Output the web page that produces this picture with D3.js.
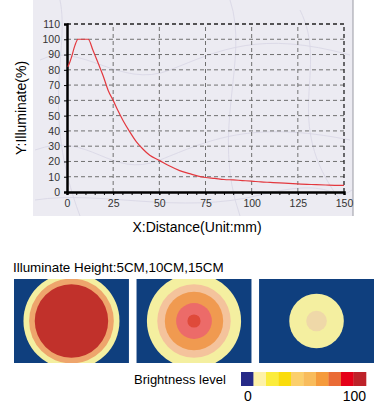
<!DOCTYPE html>
<html>
<head>
<meta charset="utf-8">
<script src="https://cdn.jsdelivr.net/npm/d3@7"></script>
<style>
    body { margin: 0; background: #fff; }
    svg { display: block; font-family: Arial, "Liberation Sans", sans-serif; }
</style>
</head>
<body>
<svg id="chart" width="380" height="411"></svg>
<script>
// illumination curve
const distance = [0.5, 1.5, 2.5, 4.3, 6, 8, 11.5, 14, 17, 19.6, 22.3, 25, 27.7, 30.4, 34, 37.6, 41.2, 44.8, 50,
    55.6, 61, 66.4, 71, 75, 80, 85, 90, 95, 100, 105, 110, 115, 120, 125, 130, 135, 140, 145, 150];
const illuminate = [82, 85, 88.5, 96, 100, 100, 100, 93, 84, 76, 66.5, 60, 53, 46.7, 39.4, 32.8, 28, 24, 20.7,
    17, 14, 12, 10.4, 9.5, 8.9, 8.2, 7.9, 7.5, 7.1, 6.6, 6.3, 6.0, 5.6, 5.3, 5.0, 4.8, 4.6, 4.4, 4.3];

const xTicks = [0, 25, 50, 75, 100, 125, 150];
const yTicks = [0, 10, 20, 30, 40, 50, 60, 70, 80, 90, 100, 110];

// spot images: ring radius (mm) and brightness level, outer to inner
const heights = ["5CM", "10CM", "15CM"];
const spotRadius = [[51, 45, 39], [50, 39, 31, 19, 7], [29, 11]];
const spotLevel = [[1, 8, 7], [1, 3, 4, 5, 6], [1, 2]];
const heatPalette = ["#0f3f7e", "#f4efa0", "#efd8a8", "#f4c39c", "#f09a50", "#ec6b69", "#df4a3a", "#c1312b", "#eea56c"];

// legend
const legendColors = ["#262a88", "#fdf1a8", "#fbec3c", "#fadc0c", "#fbcf6c", "#f8bc5c", "#f59b3c", "#ea6b35", "#e50018", "#bd2229"];
const legendLabels = ["0", "100"];

const svg = d3.select("#chart");

// ---- line chart ----
svg.append("rect")
    .attr("x", 33).attr("y", 0)
    .attr("width", 320).attr("height", 216)
    .attr("fill", "#ecebf2");

// faint marble veins in the backdrop
const veins = [
    "M40,60 C80,40 120,90 170,70 S260,30 350,55",
    "M35,150 C90,130 110,180 160,160 S250,120 350,140",
    "M60,0 C70,50 40,110 80,216",
    "M230,0 C250,60 210,130 240,216",
    "M300,10 C330,70 280,120 340,200",
    "M35,200 C100,190 180,215 260,195 S330,205 352,190"
];
svg.append("g")
    .attr("fill", "none")
    .attr("stroke", "#cfcde0")
    .attr("stroke-width", 0.8)
    .attr("opacity", 0.7)
    .selectAll("path")
    .data(veins)
    .join("path")
    .attr("d", d => d);

svg.append("line")
    .attr("x1", 353).attr("x2", 353).attr("y1", 0).attr("y2", 216)
    .attr("stroke", "#9a9aa4");

const x = d3.scaleLinear().domain([0, 150]).range([67, 344]);
const y = d3.scaleLinear().domain([0, 110]).range([192, 24]);

const grid = svg.append("g")
    .attr("stroke", "#707070")
    .attr("stroke-dasharray", "4,3");

grid.selectAll(".h")
    .data(yTicks.filter(d => d > 0 && d < 110))
    .join("line")
    .attr("x1", x(0)).attr("x2", x(150))
    .attr("y1", d => y(d)).attr("y2", d => y(d));

grid.selectAll(".v")
    .data(xTicks.filter(d => d > 0 && d < 150))
    .join("line")
    .attr("x1", d => x(d)).attr("x2", d => x(d))
    .attr("y1", y(0)).attr("y2", y(110));

// dashed top & right frame
svg.append("path")
    .attr("d", `M${x(0)},${y(110)}H${x(150)}V${y(0)}`)
    .attr("fill", "none")
    .attr("stroke", "#222")
    .attr("stroke-width", 1.3)
    .attr("stroke-dasharray", "4,3");

const yAxis = svg.append("g")
    .attr("transform", `translate(${x(0)},0)`)
    .call(d3.axisLeft(y).tickValues(yTicks).tickSize(3).tickPadding(4));
yAxis.select(".domain").attr("stroke-width", 2.5);

const xMinor = svg.append("g")
    .attr("transform", `translate(0,${y(0)})`)
    .call(d3.axisBottom(x).ticks(30).tickSize(3).tickFormat(""));
xMinor.select(".domain").remove();

const xAxis = svg.append("g")
    .attr("transform", `translate(0,${y(0)})`)
    .call(d3.axisBottom(x).tickValues(xTicks).tickSize(3).tickPadding(5));
xAxis.select(".domain").attr("stroke-width", 2.5);

svg.selectAll(".tick text")
    .attr("font-size", 10.5)
    .attr("fill", "#333")
    .attr("font-family", "Arial, 'Liberation Sans', sans-serif");

svg.append("path")
    .datum(distance.map((d, i) => [d, illuminate[i]]))
    .attr("d", d3.line().curve(d3.curveMonotoneX).x(d => x(d[0])).y(d => y(d[1])))
    .attr("fill", "none")
    .attr("stroke", "#e3383e")
    .attr("stroke-width", 1.2);

svg.append("text")
    .attr("transform", "translate(26,108) rotate(-90)")
    .attr("text-anchor", "middle")
    .attr("font-size", 14)
    .text("Y:Illuminate(%)");

svg.append("text")
    .attr("x", 197).attr("y", 232)
    .attr("text-anchor", "middle")
    .attr("font-size", 14)
    .text("X:Distance(Unit:mm)");

// ---- spot images ----
svg.append("text")
    .attr("x", 13).attr("y", 272)
    .attr("font-size", 13.4)
    .text("Illuminate Height:" + heights.join(","));

const panelX = d3.scaleBand().domain(heights).range([14, 374]).paddingInner(0.062);
const r = d3.scaleLinear().domain([0, 120]).range([0, 113]);

const panels = svg.selectAll(".spot")
    .data(heights)
    .join("g")
    .attr("class", "spot")
    .attr("transform", d => `translate(${panelX(d)},279)`);

panels.append("clipPath")
    .attr("id", (d, i) => "clip" + i)
    .append("rect")
    .attr("width", panelX.bandwidth()).attr("height", 84);

panels.append("rect")
    .attr("width", panelX.bandwidth()).attr("height", 84)
    .attr("fill", heatPalette[0]);

panels.append("g")
    .attr("clip-path", (d, i) => `url(#clip${i})`)
    .selectAll("circle")
    .data((d, i) => spotRadius[i].map((rad, k) => ({rad, level: spotLevel[i][k]})))
    .join("circle")
    .attr("cx", panelX.bandwidth() / 2)
    .attr("cy", 42)
    .attr("r", d => r(d.rad))
    .attr("fill", d => heatPalette[d.level]);

// ---- legend ----
svg.append("text")
    .attr("x", 134).attr("y", 384)
    .attr("font-size", 13)
    .text("Brightness level");

const lx = d3.scaleBand().domain(d3.range(legendColors.length)).range([241, 366]);
svg.selectAll(".lg")
    .data(legendColors)
    .join("rect")
    .attr("x", (d, i) => lx(i))
    .attr("y", 372)
    .attr("width", lx.bandwidth() + 0.3)
    .attr("height", 14)
    .attr("fill", d => d);

svg.selectAll(".lgl")
    .data(legendLabels)
    .join("text")
    .attr("x", (d, i) => i === 0 ? lx(0) + 3 : 366)
    .attr("y", 401)
    .attr("text-anchor", (d, i) => i === 0 ? "start" : "end")
    .attr("font-size", 14)
    .text(d => d);
</script>
</body>
</html>
